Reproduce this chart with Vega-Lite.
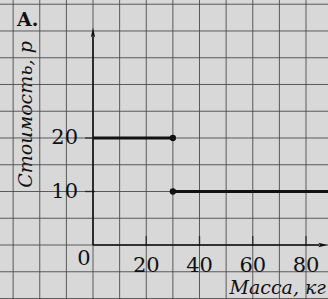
{
  "$schema": "https://vega.github.io/schema/vega-lite/v6.json",
  "width": 328,
  "height": 299,
  "autosize": "none",
  "padding": 0,
  "background": "#d8d8d8",
  "config": {"view": {"stroke": null}, "font": "DejaVu Serif"},
  "title": {"text": "A.", "anchor": "start", "frame": "group", "offset": 0, "dx": 17, "dy": 30, "fontSize": 19, "fontWeight": "bold", "font": "DejaVu Serif", "color": "#111"},
  "datasets": {
    "gridx": [{"v": -30}, {"v": -20}, {"v": -10}, {"v": 0}, {"v": 10}, {"v": 20}, {"v": 30}, {"v": 40}, {"v": 50}, {"v": 60}, {"v": 70}, {"v": 80}],
    "gridy": [{"v": -10}, {"v": -5}, {"v": 0}, {"v": 5}, {"v": 10}, {"v": 15}, {"v": 20}, {"v": 25}, {"v": 30}, {"v": 35}, {"v": 40}, {"v": 45}],
    "segments": [
      {"x": 0, "y": 20, "x2": 30, "y2": 20},
      {"x": 30, "y": 10, "x2": 95, "y2": 10}
    ],
    "dots": [{"x": 30, "y": 20}, {"x": 30, "y": 10}],
    "axislines": [
      {"x": 0, "y": 0, "x2": 0, "y2": 39},
      {"x": 0, "y": 0, "x2": 85, "y2": 0}
    ],
    "arrows": [
      {"x": 0, "y": 39.5, "dir": "up"},
      {"x": 86, "y": 0, "dir": "right"}
    ],
    "xticks": [{"v": 20}, {"v": 40}, {"v": 60}, {"v": 80}],
    "yticks": [{"v": 10}, {"v": 20}],
    "xlabels": [
      {"v": 20, "t": "20"},
      {"v": 40, "t": "40"},
      {"v": 60, "t": "60"},
      {"v": 80, "t": "80"}
    ],
    "zerolabel": [{"v": 0, "t": "0"}],
    "ylabels": [{"v": 10, "t": "10"}, {"v": 20, "t": "20"}]
  },
  "layer": [
    {
      "data": {"name": "gridx"},
      "mark": {"type": "rule", "color": "#444444", "strokeWidth": 1, "opacity": 0.85},
      "encoding": {
        "x": {
          "field": "v", "type": "quantitative",
          "scale": {"domain": [-34.93, 88.26], "nice": false, "zero": false},
          "axis": {
            "grid": false, "labels": false, "ticks": false, "domain": false,
            "title": "Масса, кг", "titleFont": "DejaVu Serif", "titleFontStyle": "italic",
            "titleFontWeight": "normal", "titleFontSize": 19, "titleColor": "#111",
            "titleAnchor": "start", "titleAlign": "left", "titleBaseline": "alphabetic",
            "titleX": 229, "titleY": -6
          }
        }
      }
    },
    {
      "data": {"name": "gridy"},
      "mark": {"type": "rule", "color": "#444444", "strokeWidth": 1, "opacity": 0.85},
      "encoding": {
        "y": {
          "field": "v", "type": "quantitative",
          "scale": {"domain": [-10.09, 45.79], "nice": false, "zero": false},
          "axis": {
            "grid": false, "labels": false, "ticks": false, "domain": false,
            "title": "Стоимость, р", "titleFont": "DejaVu Serif", "titleFontStyle": "italic",
            "titleFontWeight": "normal", "titleFontSize": 19, "titleColor": "#111",
            "titleAngle": 270, "titleAlign": "center", "titleBaseline": "alphabetic",
            "titleX": 31, "titleY": 114
          }
        }
      }
    },
    {
      "data": {"name": "segments"},
      "mark": {"type": "rule", "strokeWidth": 3, "color": "#111", "strokeCap": "butt"},
      "encoding": {
        "x": {"field": "x", "type": "quantitative"},
        "y": {"field": "y", "type": "quantitative"},
        "x2": {"field": "x2"},
        "y2": {"field": "y2"}
      }
    },
    {
      "data": {"name": "axislines"},
      "mark": {"type": "rule", "strokeWidth": 1.6, "color": "#111"},
      "encoding": {
        "x": {"field": "x", "type": "quantitative"},
        "y": {"field": "y", "type": "quantitative"},
        "x2": {"field": "x2"},
        "y2": {"field": "y2"}
      }
    },
    {
      "data": {"name": "arrows"},
      "transform": [{"filter": "datum.dir == 'up'"}],
      "mark": {"type": "point", "shape": "M0,-1L0.35,0.6L0,0.3L-0.35,0.6Z", "filled": true, "size": 150, "color": "#111", "opacity": 1},
      "encoding": {
        "x": {"field": "x", "type": "quantitative"},
        "y": {"field": "y", "type": "quantitative"}
      }
    },
    {
      "data": {"name": "arrows"},
      "transform": [{"filter": "datum.dir == 'right'"}],
      "mark": {"type": "point", "shape": "M1,0L-0.6,0.35L-0.3,0L-0.6,-0.35Z", "filled": true, "size": 150, "color": "#111", "opacity": 1},
      "encoding": {
        "x": {"field": "x", "type": "quantitative"},
        "y": {"field": "y", "type": "quantitative"}
      }
    },
    {
      "data": {"name": "xticks"},
      "mark": {"type": "tick", "orient": "vertical", "size": 10, "thickness": 1.4, "color": "#111", "yOffset": -4},
      "encoding": {
        "x": {"field": "v", "type": "quantitative"},
        "y": {"datum": 0, "type": "quantitative"}
      }
    },
    {
      "data": {"name": "yticks"},
      "mark": {"type": "tick", "orient": "horizontal", "size": 10, "thickness": 1.4, "color": "#111", "xOffset": -3},
      "encoding": {
        "y": {"field": "v", "type": "quantitative"},
        "x": {"datum": 0, "type": "quantitative"}
      }
    },
    {
      "data": {"name": "dots"},
      "mark": {"type": "circle", "size": 40, "color": "#111", "opacity": 1},
      "encoding": {
        "x": {"field": "x", "type": "quantitative"},
        "y": {"field": "y", "type": "quantitative"}
      }
    },
    {
      "data": {"name": "xlabels"},
      "mark": {"type": "text", "font": "DejaVu Serif", "fontSize": 21, "color": "#111", "baseline": "alphabetic", "dy": 27},
      "encoding": {
        "x": {"field": "v", "type": "quantitative"},
        "y": {"datum": 0, "type": "quantitative"},
        "text": {"field": "t"}
      }
    },
    {
      "data": {"name": "zerolabel"},
      "mark": {"type": "text", "font": "DejaVu Serif", "fontSize": 21, "color": "#111", "baseline": "alphabetic", "dy": 20, "dx": -9},
      "encoding": {
        "x": {"field": "v", "type": "quantitative"},
        "y": {"datum": 0, "type": "quantitative"},
        "text": {"field": "t"}
      }
    },
    {
      "data": {"name": "ylabels"},
      "mark": {"type": "text", "font": "DejaVu Serif", "fontSize": 21, "color": "#111", "align": "right", "baseline": "middle", "dx": -15},
      "encoding": {
        "y": {"field": "v", "type": "quantitative"},
        "x": {"datum": 0, "type": "quantitative"},
        "text": {"field": "t"}
      }
    }
  ]
}
